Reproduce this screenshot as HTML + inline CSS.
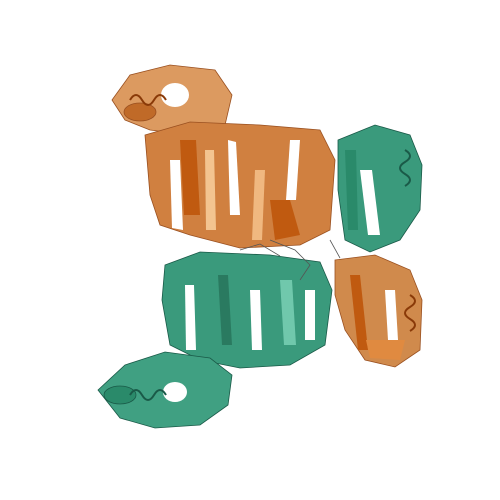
<!DOCTYPE html>
<html>
<head>
<meta charset="utf-8">
<style>
html,body{margin:0;padding:0;background:#fff;}
svg{display:block;}
</style>
</head>
<body>
<svg width="500" height="500" viewBox="0 0 500 500">
  <rect width="500" height="500" fill="#ffffff"/>
  <g stroke="#9a5020" stroke-width="0.8">
    <!-- top-left cap -->
    <path d="M112 100 L130 75 L170 65 L215 70 L232 95 L225 125 L190 135 L150 130 L125 120 Z" fill="#dc9a60"/>
    <ellipse cx="175" cy="95" rx="14" ry="12" fill="#fff" stroke="none"/>
    <ellipse cx="140" cy="112" rx="16" ry="9" fill="#c06a28"/>
    <!-- main orange body -->
    <path d="M145 135 L190 122 L260 125 L320 130 L335 160 L330 230 L300 245 L240 248 L190 235 L160 225 L150 195 Z" fill="#d08040"/>
    <path d="M170 160 L180 160 L183 230 L172 228 Z" fill="#ffffff" stroke="none"/>
    <path d="M205 150 L214 150 L216 230 L206 230 Z" fill="#f3c490" stroke="none"/>
    <path d="M228 140 L236 142 L240 215 L230 215 Z" fill="#ffffff" stroke="none"/>
    <path d="M255 170 L265 170 L262 240 L252 240 Z" fill="#f0b880" stroke="none"/>
    <path d="M290 140 L300 140 L296 200 L286 200 Z" fill="#ffffff" stroke="none"/>
    <path d="M180 140 L196 140 L200 215 L184 215 Z" fill="#c05a10" stroke="none"/>
    <path d="M270 200 L290 200 L300 235 L275 240 Z" fill="#c05a10" stroke="none"/>
    <!-- lower right orange -->
    <path d="M335 260 L375 255 L410 270 L422 300 L420 350 L395 367 L365 360 L345 330 L335 295 Z" fill="#d08a4c"/>
    <path d="M350 275 L360 275 L368 350 L358 350 Z" fill="#c05a10" stroke="none"/>
    <path d="M385 290 L395 290 L398 340 L388 340 Z" fill="#ffffff" stroke="none"/>
    <path d="M366 340 L405 340 L400 360 L370 358 Z" fill="#e08a40" stroke="none"/>
  </g>
  <g stroke="#1a5a48" stroke-width="0.8">
    <!-- top-right teal -->
    <path d="M338 140 L375 125 L410 135 L422 165 L420 210 L400 240 L370 252 L345 240 L338 190 Z" fill="#3a9a7c"/>
    <path d="M360 170 L372 170 L380 235 L368 235 Z" fill="#ffffff" stroke="none"/>
    <path d="M345 150 L356 150 L358 230 L348 230 Z" fill="#2a8a6a" stroke="none"/>
    <!-- bottom-left teal body -->
    <path d="M165 265 L200 252 L270 255 L320 262 L332 290 L325 345 L290 365 L240 368 L200 360 L170 345 L162 300 Z" fill="#3a9a7c"/>
    <path d="M185 285 L194 285 L196 350 L186 350 Z" fill="#ffffff" stroke="none"/>
    <path d="M218 275 L228 275 L232 345 L222 345 Z" fill="#2a7a60" stroke="none"/>
    <path d="M250 290 L260 290 L262 350 L252 350 Z" fill="#ffffff" stroke="none"/>
    <path d="M280 280 L292 280 L296 345 L284 345 Z" fill="#70c8ac" stroke="none"/>
    <path d="M305 290 L315 290 L315 340 L305 340 Z" fill="#ffffff" stroke="none"/>
    <!-- bottom-left cap -->
    <path d="M98 390 L125 365 L165 352 L210 358 L232 375 L228 405 L200 425 L155 428 L120 418 Z" fill="#40a082"/>
    <ellipse cx="175" cy="392" rx="12" ry="10" fill="#fff" stroke="none"/>
    <ellipse cx="120" cy="395" rx="16" ry="9" fill="#2a8a6a"/>
  </g>
  <g fill="none" stroke-width="2">
    <path d="M130 100 q6 -10 12 0 q6 10 12 0 q6 -10 12 0" stroke="#8a3a08"/>
    <path d="M405 150 q10 6 0 12 q-10 6 0 12 q10 6 0 12" stroke="#1a5a48"/>
    <path d="M410 295 q10 6 0 12 q-10 6 0 12 q10 6 0 12" stroke="#8a3a08"/>
    <path d="M130 395 q6 -10 12 0 q6 10 12 0 q6 -10 12 0" stroke="#1a5a48"/>
  </g>
  <g fill="none" stroke="#555" stroke-width="0.8">
    <path d="M270 240 L295 250 L310 265 L300 280"/>
    <path d="M240 250 L260 244 L280 256"/>
    <path d="M330 240 L340 258"/>
  </g>
</svg>
</body>
</html>
